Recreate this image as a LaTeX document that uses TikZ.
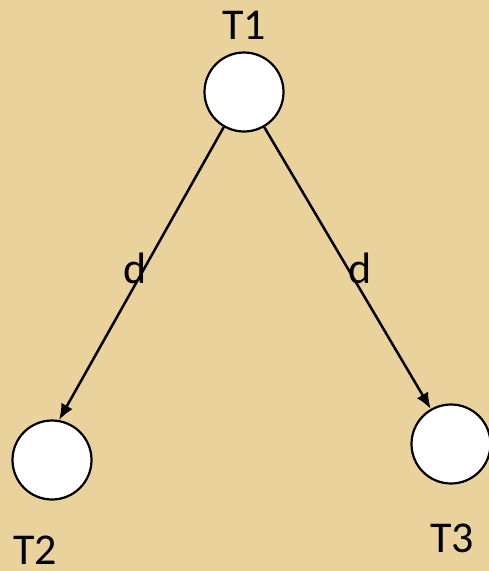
\documentclass[tikz,border=0pt]{standalone}
\usepackage{fontspec}
\setmainfont{Carlito}
\usetikzlibrary{arrows.meta}
\definecolor{parch}{RGB}{233,210,156}
\tikzset{
  state/.style={circle,draw=black,fill=white,line width=2.2pt,minimum size=79pt,inner sep=0pt},
  lbl/.style={font=\fontsize{44}{48}\selectfont,inner sep=0pt,anchor=center},
  edge/.style={line width=2.5pt,-{Latex[length=16pt,width=13pt]}}
}
\begin{document}
\begin{tikzpicture}[x=1pt,y=-1pt]
\fill[parch] (0,0) rectangle (489,571);
\useasboundingbox (0,0) rectangle (489,571);
\node[state] (t1) at (244,92) {};
\node[state] (t2) at (52,460) {};
\node[state] (t3) at (451,444) {};
\node[lbl] (l1) at (244,25) {T1};
\node[lbl] (l2) at (35,550) {T2};
\node[lbl] (l3) at (452,538) {T3};
\draw[edge] (t1.240) -- (t2.80);
\draw[edge] (t1.300) -- (t3.120);
\node[lbl] (d1) at (135,268) {d};
\node[lbl] (d2) at (360,268) {d};
\end{tikzpicture}
\end{document}
